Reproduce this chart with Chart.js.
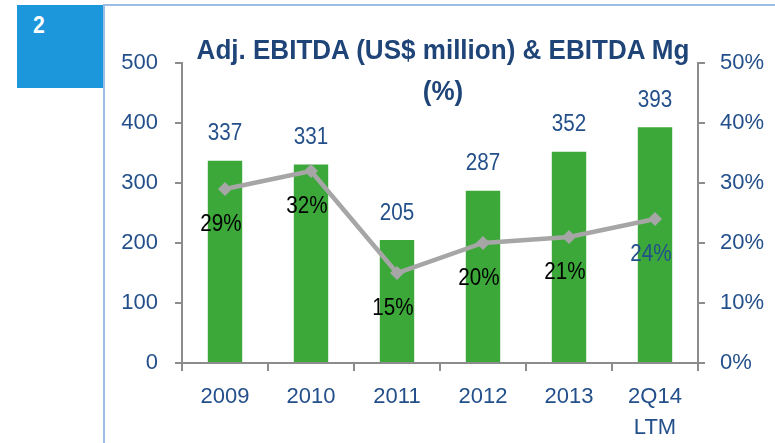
<!DOCTYPE html>
<html>
<head>
<meta charset="utf-8">
<script src="https://cdn.jsdelivr.net/npm/chart.js@4.4.1/dist/chart.umd.min.js"></script>
<style>
  html, body { margin: 0; padding: 0; background: #ffffff; }
  #wrap { position: relative; width: 775px; height: 443px; overflow: hidden; }
  #frame { position: absolute; left: 103px; top: 4px; width: 680px; height: 460px;
           border-left: 2px solid #9CBDE6; border-top: 2px solid #9CBDE6; }
  #badge { position: absolute; left: 17px; top: 5px; width: 86px; height: 83px; background: #1D97DC;
           color: #fff; font: bold 24px "Liberation Sans Narrow", "Arial Narrow", "Liberation Sans", sans-serif; }
  #badge span { position: absolute; left: 16px; top: 6px; display: inline-block; transform: scaleX(0.88); transform-origin: left top; }
  #title { position: absolute; left: 143px; width: 600px; top: 29px; text-align: center;
           transform: scaleX(0.93); transform-origin: 300px 0;
           color: #1F4478; font: bold 28px/41px "Liberation Sans Narrow", "Arial Narrow", "Liberation Sans", sans-serif; }
  canvas { position: absolute; left: 0; top: 0; }
</style>
</head>
<body>
<div id="wrap">
  <div id="frame"></div>
  <div id="badge"><span>2</span></div>
  <canvas id="c" width="775" height="443"></canvas>
  <div id="title">Adj. EBITDA (US$ million) &amp; EBITDA Mg<br>(%)</div>
</div>
<script>
const categories = ["2009", "2010", "2011", "2012", "2013", ["2Q14", "LTM"]];
const ebitda = [337, 331, 205, 287, 352, 393];
const margin = [29, 32, 15, 20, 21, 24];
const leftTicks = [0, 100, 200, 300, 400, 500];
const rightTicks = [0, 10, 20, 30, 40, 50];

const FONT = '"Liberation Sans Narrow", "Arial Narrow", "Liberation Sans", sans-serif';
const BLUE = '#234F8A';
const AXIS = '#8C8C8C';

function condensedText(ctx, text, x, y) {
  ctx.save();
  ctx.translate(x, y);
  ctx.scale(0.86, 1);
  ctx.fillText(text, 0, 0);
  ctx.restore();
}

const labelPlugin = {
  id: 'valueLabels',
  afterDatasetsDraw(chart) {
    const ctx = chart.ctx;
    ctx.save();
    ctx.font = '24px ' + FONT;
    ctx.textAlign = 'center';
    ctx.textBaseline = 'middle';
    const barMeta = chart.getDatasetMeta(0);
    barMeta.data.forEach((el, i) => {
      ctx.fillStyle = BLUE;
      condensedText(ctx, String(ebitda[i]), el.x, el.y - 27);
    });
    const lineMeta = chart.getDatasetMeta(1);
    lineMeta.data.forEach((el, i) => {
      ctx.fillStyle = (i === margin.length - 1) ? BLUE : '#000000';
      condensedText(ctx, margin[i] + '%', el.x - 4, el.y + 35);
    });
    ctx.restore();
  }
};

new Chart(document.getElementById('c'), {
  data: {
    labels: categories,
    datasets: [
      {
        type: 'bar',
        data: ebitda,
        backgroundColor: '#3CA83A',
        yAxisID: 'y',
        order: 2,
        barPercentage: 0.4,
        categoryPercentage: 1.0
      },
      {
        type: 'line',
        data: margin,
        yAxisID: 'y1',
        order: 1,
        borderColor: '#A6A6A6',
        borderWidth: 4.5,
        pointStyle: 'rectRot',
        pointRadius: 7,
        pointBackgroundColor: '#A6A6A6',
        pointBorderColor: '#A6A6A6',
        pointBorderWidth: 0,
        tension: 0
      }
    ]
  },
  options: {
    responsive: false,
    animation: false,
    devicePixelRatio: 1,
    layout: { padding: { top: 63, left: 0, right: 0, bottom: 0 } },
    plugins: { legend: { display: false }, tooltip: { enabled: false }, title: { display: false } },
    scales: {
      x: {
        grid: { display: true, drawOnChartArea: false, drawTicks: true, tickLength: 8, color: AXIS, lineWidth: 2, offset: true },
        border: { display: true, color: AXIS, width: 2 },
        ticks: { color: BLUE, font: { family: FONT, size: 22, lineHeight: 1.41 }, padding: 10, maxRotation: 0, autoSkip: false },
        afterFit(s) { s.height = 80; }
      },
      y: {
        position: 'left',
        min: 0, max: 500,
        afterBuildTicks(s) { s.ticks = leftTicks.map(v => ({ value: v })); },
        grid: { display: true, drawOnChartArea: false, drawTicks: true, tickLength: 7, color: AXIS, lineWidth: 2 },
        border: { display: true, color: AXIS, width: 2 },
        ticks: { color: BLUE, font: { family: FONT, size: 22 }, padding: 17 },
        afterFit(s) { s.width = 182; }
      },
      y1: {
        position: 'right',
        min: 0, max: 50,
        afterBuildTicks(s) { s.ticks = rightTicks.map(v => ({ value: v })); },
        grid: { display: true, drawOnChartArea: false, drawTicks: true, tickLength: 7, color: AXIS, lineWidth: 2 },
        border: { display: true, color: AXIS, width: 2 },
        ticks: { color: BLUE, font: { family: FONT, size: 22 }, padding: 15, callback: v => v + '%' },
        afterFit(s) { s.width = 77; }
      }
    }
  },
  plugins: [labelPlugin]
});
</script>
</body>
</html>
